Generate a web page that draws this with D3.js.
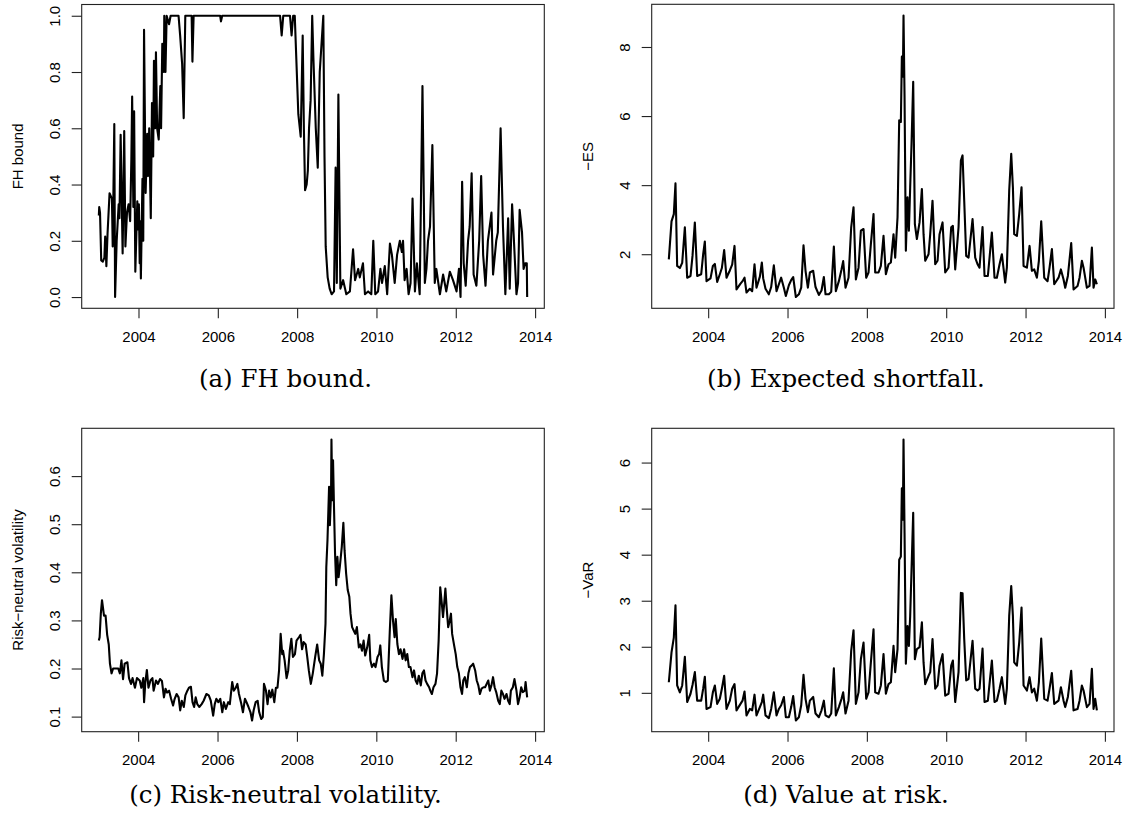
<!DOCTYPE html>
<html>
<head>
<meta charset="utf-8">
<script src="https://cdn.jsdelivr.net/npm/d3@7"></script>
<style>
  body { margin: 0; background: #fff; }
  svg text { font-family: "Liberation Sans", Arial, Helvetica, sans-serif; fill: #000; }
  svg text.caption { font-family: "DejaVu Serif", "Liberation Serif", serif; }
</style>
</head>
<body>
<svg id="fig" width="1128" height="821"></svg>
<script>
// ---- data ----
var xTicks = [2004, 2006, 2008, 2010, 2012, 2014];

// (a) FH bound, [decimal year, value]
var fhSeries = [
  [2003.00,0.29],[2003.01,0.32],[2003.03,0.30],[2003.06,0.13],[2003.10,0.126],[2003.14,0.14],[2003.16,0.215],[2003.19,0.11],
  [2003.22,0.227],[2003.27,0.369],[2003.33,0.35],[2003.35,0.18],[2003.39,0.615],[2003.41,0.0],[2003.45,0.2],[2003.50,0.33],
  [2003.52,0.28],[2003.55,0.577],[2003.60,0.155],[2003.64,0.59],[2003.67,0.18],[2003.71,0.30],[2003.75,0.33],[2003.79,0.27],
  [2003.82,0.49],[2003.84,0.713],[2003.87,0.32],[2003.89,0.66],[2003.92,0.09],[2003.97,0.34],[2003.99,0.24],[2004.01,0.33],
  [2004.03,0.12],[2004.04,0.27],[2004.06,0.066],[2004.10,0.42],[2004.12,0.20],[2004.14,0.95],[2004.18,0.37],[2004.22,0.58],
  [2004.24,0.43],[2004.27,0.60],[2004.31,0.28],[2004.34,0.69],[2004.37,0.50],[2004.39,0.84],[2004.42,0.60],[2004.44,0.87],
  [2004.47,0.60],[2004.51,0.56],[2004.55,0.75],[2004.57,0.60],[2004.60,0.90],[2004.64,0.80],[2004.65,1.0],[2004.68,0.80],
  [2004.71,1.0],[2004.77,0.97],[2004.81,1.0],[2005.01,1.0],[2005.05,0.93],[2005.10,0.83],[2005.14,0.636],[2005.18,1.0],
  [2005.34,1.0],[2005.36,0.837],[2005.39,1.0],[2006.06,1.0],[2006.08,0.98],[2006.11,1.0],[2007.57,1.0],[2007.61,0.93],
  [2007.65,1.0],[2007.82,1.0],[2007.86,0.93],[2007.90,1.0],[2007.94,1.0],[2008.03,0.65],[2008.09,0.57],[2008.14,0.93],
  [2008.17,0.60],[2008.20,0.38],[2008.24,0.40],[2008.27,0.45],[2008.30,0.60],[2008.34,0.70],[2008.38,1.0],[2008.41,0.85],
  [2008.47,0.60],[2008.52,0.46],[2008.57,0.80],[2008.66,1.0],[2008.69,0.50],[2008.72,0.18],[2008.77,0.07],[2008.82,0.03],
  [2008.87,0.01],[2008.93,0.02],[2008.97,0.46],[2009.00,0.05],[2009.04,0.72],[2009.07,0.30],[2009.09,0.03],[2009.16,0.06],
  [2009.24,0.01],[2009.33,0.02],[2009.41,0.17],[2009.46,0.06],[2009.54,0.10],[2009.58,0.07],[2009.66,0.12],[2009.71,0.01],
  [2009.79,0.02],[2009.87,0.01],[2009.92,0.20],[2009.97,0.01],[2010.04,0.02],[2010.10,0.10],[2010.14,0.05],[2010.21,0.11],
  [2010.27,0.01],[2010.34,0.19],[2010.39,0.15],[2010.46,0.05],[2010.52,0.15],[2010.59,0.20],[2010.64,0.16],[2010.67,0.20],
  [2010.71,0.06],[2010.76,0.10],[2010.81,0.01],[2010.86,0.05],[2010.91,0.35],[2010.97,0.02],[2011.02,0.12],[2011.09,0.01],
  [2011.16,0.75],[2011.22,0.05],[2011.26,0.10],[2011.30,0.20],[2011.35,0.25],[2011.41,0.54],[2011.47,0.05],[2011.51,0.10],
  [2011.60,0.01],[2011.68,0.08],[2011.76,0.02],[2011.85,0.09],[2011.93,0.06],[2012.02,0.02],[2012.08,0.10],[2012.12,0.00],
  [2012.16,0.41],[2012.20,0.12],[2012.25,0.04],[2012.31,0.20],[2012.35,0.25],[2012.40,0.44],[2012.45,0.08],[2012.52,0.04],
  [2012.59,0.20],[2012.64,0.43],[2012.69,0.15],[2012.75,0.04],[2012.81,0.20],[2012.90,0.30],[2012.94,0.08],[2013.02,0.20],
  [2013.06,0.23],[2013.13,0.60],[2013.19,0.25],[2013.25,0.01],[2013.30,0.20],[2013.32,0.28],[2013.36,0.03],[2013.42,0.33],
  [2013.45,0.25],[2013.53,0.01],[2013.57,0.05],[2013.61,0.31],[2013.67,0.23],[2013.71,0.10],[2013.75,0.12],[2013.79,0.12],
  [2013.80,0.00]
];

// (b) and (d) share the same dates
var riskDates = [
  2003.008,2003.076,2003.134,2003.176,2003.218,2003.286,2003.345,2003.412,2003.471,2003.555,
  2003.605,2003.664,2003.723,2003.824,2003.874,2003.916,2003.958,2004.059,2004.118,2004.168,
  2004.227,2004.294,2004.345,2004.403,2004.462,2004.546,2004.605,2004.664,2004.714,2004.815,
  2004.866,2004.916,2004.966,2005.050,2005.109,2005.168,2005.218,2005.303,2005.353,2005.387,
  2005.445,2005.529,2005.588,2005.655,2005.723,2005.782,2005.840,2005.908,2005.958,2006.034,
  2006.092,2006.143,2006.210,2006.286,2006.345,2006.403,2006.454,2006.513,2006.563,2006.647,
  2006.706,2006.790,2006.857,2006.916,2006.958,2007.042,2007.101,2007.168,2007.218,2007.294,
  2007.361,2007.403,2007.462,
  2007.538,2007.605,2007.664,2007.723,2007.790,2007.849,2007.916,2007.983,2008.042,2008.101,
  2008.168,2008.210,2008.294,2008.353,2008.420,2008.479,2008.546,2008.605,2008.672,2008.714,
  2008.773,2008.815,2008.857,2008.882,2008.908,2008.924,2008.950,2008.983,2009.025,2009.059,
  2009.092,2009.126,2009.168,2009.210,2009.261,2009.328,2009.387,2009.429,2009.471,2009.555,
  2009.597,2009.655,2009.723,2009.782,2009.832,2009.908,2009.975,2010.059,2010.126,2010.168,
  2010.227,2010.311,2010.370,2010.412,2010.454,2010.504,2010.563,2010.664,2010.731,2010.790,
  2010.840,2010.916,2010.966,2011.050,2011.151,2011.218,2011.277,2011.345,2011.403,2011.487,
  2011.529,2011.588,2011.639,2011.681,2011.714,2011.782,2011.840,2011.899,2011.950,2012.034,
  2012.101,2012.160,2012.218,2012.286,2012.336,2012.395,2012.471,2012.555,2012.605,2012.664,
  2012.723,2012.832,2012.891,2012.958,2013.000,2013.067,2013.151,2013.210,2013.311,2013.361,
  2013.420,2013.462,2013.546,2013.613,2013.672,2013.714,2013.756,2013.798
];

// (b) -ES
var esValues = [
  1.85,2.95,3.16,4.05,1.66,1.60,1.75,2.78,1.32,1.37,
  1.95,2.92,1.37,1.42,2.00,2.37,1.22,1.30,1.66,1.72,
  1.20,1.42,1.60,2.12,1.32,1.53,1.70,2.24,0.98,1.15,
  1.22,1.32,0.89,1.00,0.93,1.71,1.03,1.35,1.76,1.30,
  1.00,0.84,1.05,1.68,0.93,1.13,1.32,1.03,0.79,1.10,
  1.25,1.34,0.76,0.84,1.03,2.26,1.52,1.03,1.47,1.52,
  1.05,0.82,0.95,1.34,0.84,0.84,0.91,2.22,0.93,1.22,
  1.56,1.80,1.03,
  1.32,2.78,3.36,1.27,1.61,2.68,2.73,1.32,1.47,2.29,
  3.16,1.47,1.47,1.66,2.53,1.42,1.71,1.76,2.58,1.90,
  3.07,5.88,5.83,7.72,7.14,8.91,6.55,2.10,3.65,2.68,
  3.94,5.20,6.99,2.87,2.44,2.92,3.89,2.58,1.81,2.00,
  2.58,3.55,1.71,1.81,2.58,2.92,1.47,1.61,2.78,2.82,
  1.56,2.78,4.71,4.86,3.55,1.95,1.90,3.02,1.90,1.71,
  1.61,2.79,1.37,1.37,2.63,1.32,1.32,1.71,2.00,1.18,
  1.61,3.84,4.91,3.94,2.58,2.53,3.16,3.94,1.66,1.61,
  2.24,1.52,1.56,1.32,1.81,2.95,1.32,1.22,1.61,2.15,
  1.13,1.32,1.56,1.27,1.03,1.37,2.32,0.98,1.08,1.32,
  1.81,1.61,1.03,1.08,2.19,1.03,1.27,1.13
];

// (d) -VaR
var varValues = [
  1.23,1.88,2.20,2.90,1.16,1.01,1.16,1.78,0.80,0.98,
  1.17,1.45,0.83,0.83,1.09,1.35,0.65,0.69,1.01,1.16,
  0.76,0.87,1.09,1.37,0.65,0.83,1.09,1.19,0.62,0.76,
  0.83,1.03,0.51,0.65,0.62,0.96,0.51,0.69,0.80,0.96,
  0.51,0.45,0.65,1.01,0.51,0.65,0.73,0.91,0.47,0.47,
  0.69,0.93,0.40,0.47,0.73,1.39,0.87,0.58,0.83,0.91,
  0.55,0.47,0.62,0.83,0.51,0.47,0.55,1.53,0.51,0.69,
  0.87,1.01,0.55,
  0.83,1.91,2.36,0.76,1.01,1.73,2.09,0.87,1.01,1.66,
  2.38,1.01,0.98,1.16,1.84,0.98,1.19,1.23,2.02,1.45,
  1.95,3.89,3.96,5.44,4.76,6.50,4.47,1.63,2.45,2.02,
  2.67,3.68,4.91,1.73,1.95,1.99,2.53,1.66,1.19,1.37,
  1.45,2.17,1.09,1.16,1.59,1.84,0.94,0.98,1.59,1.70,
  0.80,1.45,3.17,3.16,2.17,1.27,1.30,2.13,1.09,1.05,
  1.09,1.96,0.80,0.83,1.70,0.80,0.83,1.09,1.34,0.76,
  1.09,2.67,3.32,2.67,1.66,1.59,2.09,2.85,1.16,1.05,
  1.34,1.01,1.09,0.83,1.23,2.18,0.87,0.83,1.09,1.43,
  0.76,0.83,1.12,0.83,0.69,0.91,1.48,0.62,0.65,0.83,
  1.16,1.05,0.69,0.76,1.52,0.65,0.87,0.62
];

// (c) risk-neutral volatility, [decimal year, value]
var volSeries = [
  [2003.01,0.258],[2003.03,0.265],[2003.06,0.314],[2003.09,0.342],[2003.14,0.31],[2003.18,0.31],[2003.22,0.27],[2003.26,0.25],
  [2003.29,0.21],[2003.33,0.19],[2003.37,0.20],[2003.44,0.20],[2003.50,0.20],[2003.54,0.19],[2003.58,0.217],[2003.62,0.178],
  [2003.66,0.21],[2003.73,0.213],[2003.77,0.18],[2003.82,0.168],[2003.86,0.18],[2003.92,0.16],[2003.97,0.18],[2004.04,0.175],
  [2004.08,0.16],[2004.13,0.18],[2004.15,0.13],[2004.18,0.17],[2004.22,0.197],[2004.26,0.16],[2004.31,0.175],[2004.36,0.18],
  [2004.39,0.154],[2004.45,0.175],[2004.50,0.168],[2004.55,0.178],[2004.60,0.174],[2004.65,0.14],[2004.69,0.158],[2004.73,0.15],
  [2004.78,0.154],[2004.83,0.137],[2004.88,0.123],[2004.92,0.137],[2004.97,0.147],[2005.02,0.14],[2005.06,0.113],[2005.10,0.133],
  [2005.15,0.12],[2005.19,0.144],[2005.24,0.154],[2005.28,0.16],[2005.33,0.162],[2005.37,0.13],[2005.41,0.12],[2005.45,0.14],
  [2005.49,0.126],[2005.54,0.12],[2005.60,0.126],[2005.65,0.133],[2005.72,0.147],[2005.78,0.144],[2005.83,0.133],[2005.89,0.102],
  [2005.93,0.126],[2005.97,0.137],[2006.02,0.13],[2006.07,0.137],[2006.12,0.109],[2006.16,0.13],[2006.21,0.116],[2006.27,0.13],
  [2006.31,0.126],[2006.37,0.172],[2006.41,0.154],[2006.46,0.16],[2006.50,0.168],[2006.54,0.147],[2006.60,0.126],[2006.64,0.109],
  [2006.69,0.137],[2006.73,0.13],[2006.78,0.12],[2006.83,0.109],[2006.87,0.092],[2006.91,0.113],[2006.96,0.13],[2007.01,0.133],
  [2007.05,0.109],[2007.10,0.095],[2007.14,0.099],[2007.17,0.168],[2007.22,0.154],[2007.26,0.126],[2007.30,0.154],[2007.34,0.14],
  [2007.38,0.156],[2007.43,0.13],[2007.47,0.16],[2007.51,0.16],[2007.55,0.196],[2007.59,0.272],[2007.63,0.23],[2007.65,0.237],
  [2007.69,0.217],[2007.74,0.18],[2007.78,0.196],[2007.82,0.237],[2007.86,0.262],[2007.90,0.224],[2007.95,0.23],[2007.99,0.258],
  [2008.05,0.265],[2008.09,0.27],[2008.13,0.24],[2008.17,0.255],[2008.22,0.25],[2008.26,0.224],[2008.30,0.196],[2008.35,0.168],
  [2008.40,0.19],[2008.46,0.224],[2008.51,0.25],[2008.56,0.217],[2008.60,0.21],[2008.64,0.185],[2008.68,0.23],[2008.72,0.293],
  [2008.74,0.411],[2008.77,0.467],[2008.81,0.578],[2008.83,0.498],[2008.86,0.564],[2008.87,0.676],[2008.89,0.55],[2008.91,0.633],
  [2008.93,0.55],[2008.96,0.44],[2008.99,0.373],[2009.02,0.432],[2009.05,0.39],[2009.08,0.411],[2009.13,0.453],[2009.17,0.503],
  [2009.20,0.446],[2009.24,0.397],[2009.28,0.363],[2009.32,0.349],[2009.35,0.314],[2009.39,0.286],[2009.43,0.279],[2009.47,0.272],
  [2009.51,0.286],[2009.56,0.244],[2009.60,0.25],[2009.64,0.237],[2009.68,0.258],[2009.72,0.227],[2009.77,0.244],[2009.82,0.27],
  [2009.85,0.217],[2009.89,0.203],[2009.94,0.21],[2009.98,0.203],[2010.03,0.224],[2010.07,0.23],[2010.10,0.248],[2010.14,0.203],
  [2010.19,0.175],[2010.24,0.172],[2010.29,0.175],[2010.34,0.279],[2010.38,0.352],[2010.42,0.30],[2010.46,0.265],[2010.49,0.303],
  [2010.53,0.251],[2010.57,0.23],[2010.61,0.24],[2010.66,0.22],[2010.70,0.24],[2010.74,0.217],[2010.78,0.23],[2010.82,0.203],
  [2010.86,0.203],[2010.91,0.182],[2010.95,0.196],[2010.99,0.175],[2011.03,0.168],[2011.07,0.185],[2011.12,0.165],[2011.16,0.19],
  [2011.20,0.196],[2011.24,0.175],[2011.28,0.168],[2011.33,0.161],[2011.36,0.154],[2011.40,0.147],[2011.44,0.161],[2011.49,0.168],
  [2011.53,0.19],[2011.57,0.258],[2011.61,0.369],[2011.65,0.335],[2011.68,0.307],[2011.71,0.335],[2011.74,0.366],[2011.77,0.328],
  [2011.81,0.286],[2011.85,0.30],[2011.88,0.314],[2011.91,0.272],[2011.96,0.248],[2012.00,0.23],[2012.04,0.203],[2012.08,0.19],
  [2012.12,0.161],[2012.16,0.147],[2012.19,0.175],[2012.23,0.182],[2012.28,0.161],[2012.32,0.19],[2012.36,0.203],[2012.40,0.206],
  [2012.44,0.21],[2012.49,0.196],[2012.53,0.175],[2012.57,0.165],[2012.61,0.147],[2012.65,0.158],[2012.70,0.161],[2012.74,0.161],
  [2012.78,0.168],[2012.82,0.175],[2012.86,0.154],[2012.90,0.165],[2012.94,0.182],[2012.98,0.161],[2013.02,0.151],[2013.07,0.133],
  [2013.11,0.126],[2013.15,0.154],[2013.19,0.147],[2013.23,0.137],[2013.28,0.147],[2013.32,0.133],[2013.36,0.126],[2013.39,0.154],
  [2013.44,0.161],[2013.48,0.178],[2013.53,0.154],[2013.57,0.126],[2013.61,0.14],[2013.65,0.161],[2013.69,0.151],[2013.74,0.154],
  [2013.76,0.172],[2013.80,0.14]
];

// ---- drawing ----
var svg = d3.select("#fig");

// R-style axis range: data range widened by 4% on each side
function rRange(ext) {
  var r = ext[1] - ext[0];
  return [ext[0] - 0.04 * r, ext[1] + 0.04 * r];
}

function drawPanel(p) {
  var x = d3.scaleLinear().domain(rRange(d3.extent(p.data, function (d) { return d[0]; }))).range([p.left, p.right]),
      y = d3.scaleLinear().domain(rRange(d3.extent(p.data, function (d) { return d[1]; }))).range([p.bottom, p.top]),
      g = svg.append("g"),
      axisColor = "#222";

  var line = d3.line()
      .x(function (d) { return x(d[0]); })
      .y(function (d) { return y(d[1]); });

  g.append("path")
      .datum(p.data)
      .attr("fill", "none")
      .attr("stroke", "#000")
      .attr("stroke-width", 2.1)
      .attr("stroke-linejoin", "round")
      .attr("d", line);

  var xAxis = g.append("g")
      .attr("transform", "translate(0," + p.bottom + ")")
      .call(d3.axisBottom(x).tickValues(xTicks).tickFormat(d3.format("d")).tickSize(10).tickSizeOuter(0));
  xAxis.select(".domain").remove();
  xAxis.selectAll("line").attr("stroke", axisColor).attr("stroke-width", 1.1);
  xAxis.selectAll("text").attr("y", 33.5).attr("dy", null).style("font-size", "15px").attr("fill", "#000");

  var yAxis = g.append("g")
      .attr("transform", "translate(" + p.left + ",0)")
      .call(d3.axisLeft(y).tickValues(p.yTicks).tickFormat(p.yFormat).tickSize(10).tickSizeOuter(0));
  yAxis.select(".domain").remove();
  yAxis.selectAll("line").attr("stroke", axisColor).attr("stroke-width", 1.1);
  yAxis.selectAll("text")
      .attr("transform", "rotate(-90)")
      .attr("x", 0).attr("y", -21.7).attr("dy", null)
      .attr("text-anchor", "middle")
      .style("font-size", "15px").attr("fill", "#000");

  g.append("rect")
      .attr("x", p.left).attr("y", p.top)
      .attr("width", p.right - p.left).attr("height", p.bottom - p.top)
      .attr("fill", "none").attr("stroke", axisColor).attr("stroke-width", 1.1);

  g.append("text")
      .attr("transform", "translate(" + (p.left - 58.5) + "," + ((p.top + p.bottom) / 2) + ") rotate(-90)")
      .attr("text-anchor", "middle")
      .style("font-size", "15px")
      .text(p.ylab);

  g.append("text")
      .attr("class", "caption")
      .attr("x", p.capX).attr("y", p.capY)
      .attr("text-anchor", "middle")
      .style("font-size", "24.5px")
      .text(p.caption);
}

var riskES = riskDates.map(function (d, i) { return [d, esValues[i]]; }),
    riskVaR = riskDates.map(function (d, i) { return [d, varValues[i]]; });

drawPanel({ data: fhSeries, left: 81.7, right: 544.3, top: 4.5, bottom: 308.3,
  yTicks: [0, 0.2, 0.4, 0.6, 0.8, 1.0], yFormat: d3.format(".1f"),
  ylab: "FH bound", caption: "(a) FH bound.", capX: 285.5, capY: 386.5 });

drawPanel({ data: riskES, left: 651.7, right: 1114, top: 4.3, bottom: 308.3,
  yTicks: [2, 4, 6, 8], yFormat: d3.format("d"),
  ylab: "\u2212ES", caption: "(b) Expected shortfall.", capX: 846, capY: 386.5 });

drawPanel({ data: volSeries, left: 81.7, right: 544.3, top: 428.3, bottom: 731.7,
  yTicks: [0.1, 0.2, 0.3, 0.4, 0.5, 0.6], yFormat: d3.format(".1f"),
  ylab: "Risk\u2212neutral volatility", caption: "(c) Risk-neutral volatility.", capX: 285.5, capY: 803 });

drawPanel({ data: riskVaR, left: 651.7, right: 1114, top: 428.3, bottom: 731.7,
  yTicks: [1, 2, 3, 4, 5, 6], yFormat: d3.format("d"),
  ylab: "\u2212VaR", caption: "(d) Value at risk.", capX: 846, capY: 803 });
</script>
</body>
</html>
